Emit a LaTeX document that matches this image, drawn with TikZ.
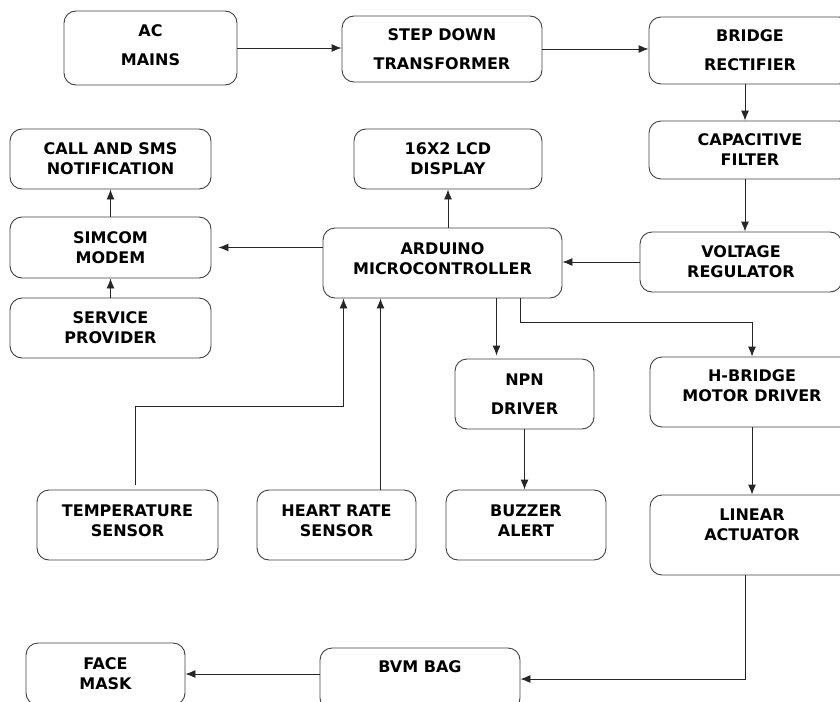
\documentclass[tikz,border=0pt]{standalone}
\usepackage{fontspec}
\setmainfont{DejaVu Sans}
\usetikzlibrary{arrows.meta}
\begin{document}
\begin{tikzpicture}[x=1pt,y=-1pt,
    blk/.style={draw=black!75,line width=0.9pt,rounded corners=12pt,align=center,inner sep=0pt,
      font=\fontsize{16}{20}\selectfont\bfseries},
    arr/.style={draw=black!85,line width=0.9pt,-{Latex[length=10pt,width=8pt]}}]
    \useasboundingbox (0,0) rectangle (840,701);
    \node[blk,minimum width=173,minimum height=74,text depth=6pt] (ac) at (150.5,48) {AC\\[9pt]MAINS};
    \node[blk,minimum width=200,minimum height=66] (step) at (442,49) {STEP DOWN\\[9pt]TRANSFORMER};
    \node[blk,minimum width=202,minimum height=67] (br) at (750,50.5) {BRIDGE\\[9pt]RECTIFIER};
    \node[blk,minimum width=202,minimum height=58] (cap) at (750,150) {CAPACITIVE\\FILTER};
    \node[blk,minimum width=202,minimum height=60] (volt) at (741,262) {VOLTAGE\\REGULATOR};
    \node[blk,minimum width=188,minimum height=60] (lcd) at (448,159) {16X2 LCD\\DISPLAY};
    \node[blk,minimum width=201,minimum height=60] (call) at (110.5,159) {CALL AND SMS\\NOTIFICATION};
    \node[blk,minimum width=201,minimum height=61] (sim) at (110.5,247.5) {SIMCOM\\MODEM};
    \node[blk,minimum width=201,minimum height=60] (serv) at (110.5,328) {SERVICE\\PROVIDER};
    \node[blk,minimum width=239,minimum height=70,text depth=8pt] (ard) at (442.5,263) {ARDUINO\\MICROCONTROLLER};
    \node[blk,minimum width=139,minimum height=70] (npn) at (524.5,394) {NPN\\[9pt]DRIVER};
    \node[blk,minimum width=204,minimum height=70,text depth=12pt] (hb) at (752,392) {H-BRIDGE\\MOTOR DRIVER};
    \node[blk,minimum width=181,minimum height=70,text depth=8pt] (temp) at (127.5,525) {TEMPERATURE\\SENSOR};
    \node[blk,minimum width=159,minimum height=70,text depth=8pt] (heart) at (336.5,525) {HEART RATE\\SENSOR};
    \node[blk,minimum width=160,minimum height=70,text depth=8pt] (buz) at (526,525) {BUZZER\\ALERT};
    \node[blk,minimum width=204,minimum height=80,text depth=20pt] (lin) at (752,535) {LINEAR\\ACTUATOR};
    \node[blk,minimum width=159,minimum height=62] (face) at (105.5,674) {FACE\\MASK};
    \node[blk,minimum width=200,minimum height=62,text depth=24pt] (bvm) at (420,679) {BVM BAG};

    \draw[arr] (ac.east) -- (ac.east -| step.west);
    \draw[arr] (step.east) -- (step.east -| br.west);
    \draw[arr] ([xshift=-5pt]br.south) -- ([xshift=-5pt]cap.north);
    \draw[arr] ([xshift=-5pt]cap.south) -- ([xshift=-5pt]cap.south |- volt.north);
    \draw[arr] (volt.west) -- (volt.west -| ard.east);
    \draw[arr] (lcd.south |- ard.north) -- (lcd.south);
    \draw[arr] (ard.west |- sim.east) -- ([xshift=7pt]sim.east);
    \draw[arr] (sim) -- (call);
    \draw[arr] (serv) -- (sim);
    \draw[arr,shorten >=3pt] ([xshift=54pt]ard.south) -- ([xshift=54pt]ard.south |- npn.north);
    \draw[arr] ([xshift=78pt]ard.south) -- ++(0,24) -| (hb.north);
    \draw[arr] ([xshift=8pt,yshift=5pt]temp.north) -- ++(0,-78) -| ([xshift=-99pt]ard.south);
    \draw[arr] ([xshift=44pt]heart.north) -- ([xshift=-62pt]ard.south);
    \draw[arr] (npn.south) -- (npn.south |- buz.north);
    \draw[arr] (hb.south) -- (lin.north);
    \draw[arr] ([xshift=-7pt]lin.south) |- (bvm.east);
    \draw[arr] (bvm.west |- face.east) -- (face.east);
\end{tikzpicture}
\end{document}
